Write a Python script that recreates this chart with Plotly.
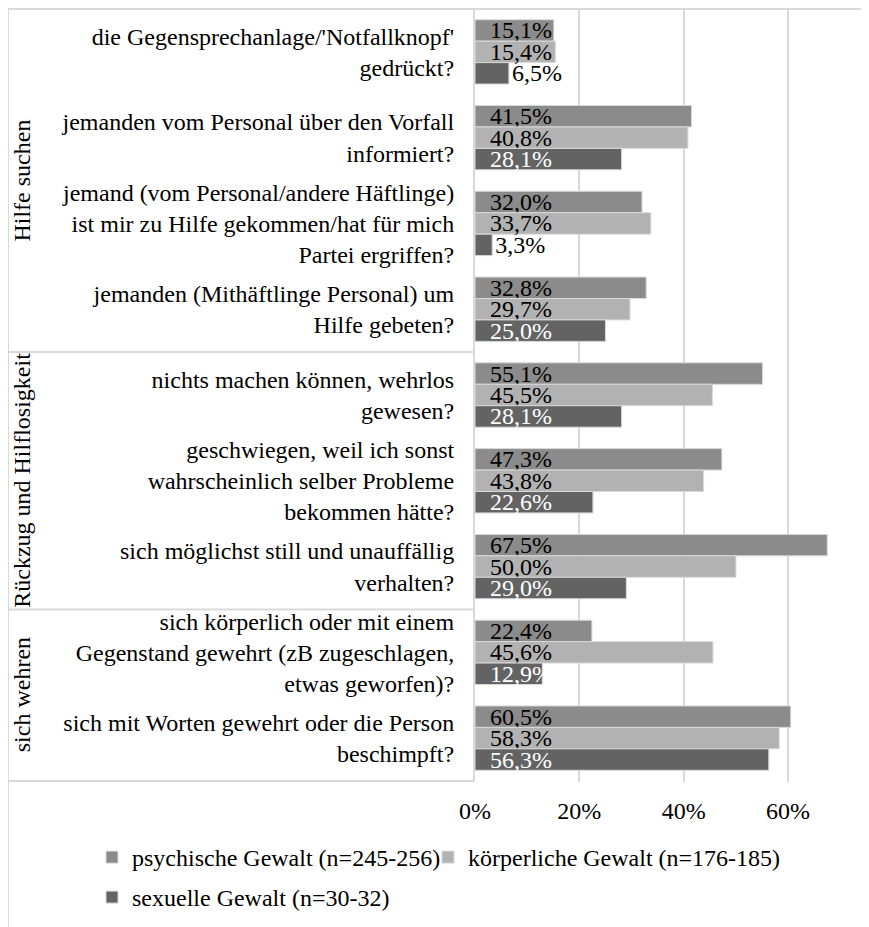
import plotly.graph_objects as go

categories = [
    "die Gegensprechanlage/'Notfallknopf'<br>gedrückt?",
    "jemanden vom Personal über den Vorfall<br>informiert?",
    "jemand (vom Personal/andere Häftlinge)<br>ist mir zu Hilfe gekommen/hat für mich<br>Partei ergriffen?",
    "jemanden (Mithäftlinge Personal) um<br>Hilfe gebeten?",
    "nichts machen können, wehrlos<br>gewesen?",
    "geschwiegen, weil ich sonst<br>wahrscheinlich selber Probleme<br>bekommen hätte?",
    "sich möglichst still und unauffällig<br>verhalten?",
    "sich körperlich oder mit einem<br>Gegenstand gewehrt (zB zugeschlagen,<br>etwas geworfen)?",
    "sich mit Worten gewehrt oder die Person<br>beschimpft?",
]
groups = ["Hilfe suchen", "Rückzug und Hilflosigkeit", "sich wehren"]
group_sizes = [4, 3, 2]

psychisch = [0.151, 0.415, 0.320, 0.328, 0.551, 0.473, 0.675, 0.224, 0.605]
koerperlich = [0.154, 0.408, 0.337, 0.297, 0.455, 0.438, 0.500, 0.456, 0.583]
sexuell = [0.065, 0.281, 0.033, 0.250, 0.281, 0.226, 0.290, 0.129, 0.563]

# legend slot for each series: (legend id, left px, top px)
series = [
    ("psychische Gewalt (n=245-256)", psychisch, "#8b8b8b", "black", ("legend", 92, 835)),
    ("körperliche Gewalt (n=176-185)", koerperlich, "#b2b2b2", "black", ("legend2", 428, 835)),
    ("sexuelle Gewalt (n=30-32)", sexuell, "#636363", "white", ("legend3", 92, 875)),
]

FONT = "'Liberation Serif', 'Times New Roman', serif"
OFF = 8  # page body margin
W, H = 869 - OFF, 927 - OFF
# plot area in page pixels
X0, X1, Y0, Y1 = 475, 869, 9, 782
L, R, T, B = X0 - OFF, 0, Y0 - OFF, H - (Y1 - OFF)
pw = W - L - R
ph = H - T - B


def px_x(p):
    return (p - X0) / pw


def px_y(p):
    return (Y1 - p) / ph


fig = go.Figure()
legends = {}
for name, vals, color, txtcol, (leg, lx, ly) in series:
    pos = ["outside" if v < 0.1 else "inside" for v in vals]
    tmpl = ["%{x:.1%}" if p == "outside" else "\u00a0\u00a0%{x:.1%}" for p in pos]
    fig.add_trace(go.Bar(
        name=name, y=categories, x=vals, orientation="h",
        marker=dict(color=color, line=dict(color="#d9d9d9", width=1)),
        texttemplate=tmpl, textposition=pos, insidetextanchor="start",
        constraintext="none", cliponaxis=False,
        insidetextfont=dict(color=txtcol, size=24, family=FONT),
        outsidetextfont=dict(color="black", size=24, family=FONT),
        legend=leg, showlegend=True,
    ))
    legends[leg] = dict(orientation="h", x=px_x(lx), y=px_y(ly), xanchor="left",
                        yanchor="top", bgcolor="rgba(0,0,0,0)",
                        font=dict(size=24, family=FONT, color="black"))

line = dict(color="#d9d9d9", width=2)
shapes = []
# group separators
edge = -0.5
for n in group_sizes:
    edge += n
    shapes.append(dict(type="line", xref="paper", yref="y", x0=px_x(8), x1=0,
                       y0=edge, y1=edge, line=line))
# chart border (top and left)
shapes.append(dict(type="line", xref="paper", yref="paper", x0=px_x(8), x1=1,
                   y0=px_y(9), y1=px_y(9), line=line))
shapes.append(dict(type="line", xref="paper", yref="paper", x0=px_x(8), x1=px_x(8),
                   y0=px_y(9), y1=px_y(940), line=line))

annotations = []
start = 0
for g, n in zip(groups, group_sizes):
    annotations.append(dict(text=g, textangle=-90, xref="paper", yref="y",
                            x=px_x(22), y=start + (n - 1) / 2, showarrow=False,
                            xanchor="center", yanchor="middle",
                            font=dict(size=24, family=FONT, color="black")))
    start += n

fig.update_layout(
    width=W, height=H,
    margin=dict(l=L, r=R, t=T, b=B),
    barmode="group", bargap=0.25, bargroupgap=0,
    separators=",.",
    showlegend=True,
    plot_bgcolor="white", paper_bgcolor="white",
    font=dict(family=FONT, size=24, color="black"),
    shapes=shapes, annotations=annotations,
    **legends,
)
fig.update_xaxes(range=[0, 0.755], tickvals=[0, 0.2, 0.4, 0.6], tickformat=".0%",
                 showgrid=True, gridcolor="#d9d9d9", gridwidth=2, zeroline=False,
                 showline=False, ticks="", ticklabelstandoff=12,
                 tickfont=dict(size=24, family=FONT, color="black"))
fig.update_yaxes(autorange="reversed", showline=True, linecolor="#d9d9d9", linewidth=2,
                 showgrid=False, ticks="", ticklabelstandoff=14,
                 tickfont=dict(size=24, family=FONT, color="black"))

fig.write_html("out.html")
